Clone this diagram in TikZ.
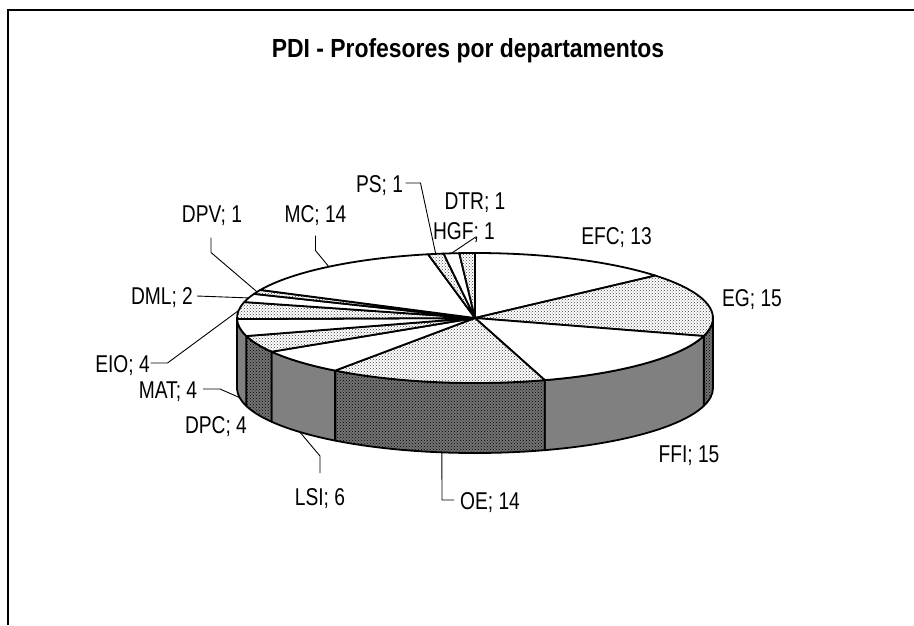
\documentclass[tikz,border=0pt]{standalone}
\usepackage{fontspec}
\setmainfont{Liberation Sans}
\usetikzlibrary{patterns,calc}
\newcommand\lbltext[1]{\scalebox{0.79}[1]{#1}}
\begin{document}
\begin{tikzpicture}[x=1pt,y=-1pt,
  lbl/.style={font=\fontsize{24.3}{29}\selectfont, inner sep=0pt, anchor=base},
  ttl/.style={font=\bfseries\fontsize{26.2}{31}\selectfont, inner sep=0pt, anchor=base},
  topw/.style={fill=white, draw=black, line width=1.8pt, line join=round},
  topd/.style={draw=black, line width=1.8pt, line join=round, pattern=crosshatch dots, pattern color=black!75, preaction={fill=white}},
  sideg/.style={fill=black!50, draw=black, line width=1.8pt, line join=round},
  sided/.style={draw=black, line width=1.8pt, line join=round, pattern=crosshatch dots, pattern color=black, preaction={fill=black!55}},
  leader/.style={line width=0.9pt},
  frame/.style={line width=1.4pt}]
\useasboundingbox (0,0) rectangle (914,625);
\fill[white] (0,0) rectangle (914,625);
\draw[frame] (8,625) -- (8,10) -- (914,10);

\coordinate (C) at (475,318);

% side faces
\foreach \a/\b/\s in {13/28/sided,28/43/sideg,43/57/sided,57/63/sideg,63/67/sided,67/71/sideg,71/75/sided}{
  \pgfmathsetmacro\pa{max(0,-90+\a*3.789474)}
  \pgfmathsetmacro\pb{min(180,-90+\b*3.789474)}
  \path[\s] ($(C)+(\pa:238 and 65)$) arc[start angle=\pa,end angle=\pb,x radius=238,y radius=65]
     -- ++(0,70) arc[start angle=\pb,end angle=\pa,x radius=238,y radius=65] -- cycle;
}

% top faces
\foreach \a/\b/\s in {0/13/topw,13/28/topd,28/43/topw,43/57/topd,57/63/topw,63/67/topd,67/71/topw,71/75/topd,75/77/topw,77/78/topd,78/92/topw,92/93/topd,93/94/topw,94/95/topd}{
  \pgfmathsetmacro\pa{-90+\a*3.789474}
  \pgfmathsetmacro\pb{-90+\b*3.789474}
  \path[\s] (C) -- ($(C)+(\pa:238 and 65)$) arc[start angle=\pa,end angle=\pb,x radius=238,y radius=65] -- cycle;
}

% leader end points
\coordinate (pPS) at ($(C)+(260.5:238 and 65)$);
\coordinate (pDTR) at ($(C)+(264.3:238 and 65)$);
\coordinate (pMC) at ($(C)+(232.1:238 and 65)$);
\coordinate (pDPV) at ($(C)+(203.7:238 and 65)$);
\coordinate (pDML) at ($(C)+(198:238 and 65)$);
\coordinate (pEIO) at ($(C)+(186.6:238 and 65)$);
\coordinate (pMAT) at ($(C)+(171.5:238 and 65)+(0,70)$);
\coordinate (pLSI) at ($(C)+(137.4:238 and 65)+(0,70)$);
\coordinate (pOE) at ($(C)+(98:238 and 65)+(0,70)$);

% title
\node[ttl] (title) at (468,57.3) {\scalebox{0.875}[1]{PDI - Profesores por departamentos}};

% labels
\node[lbl] (lEFC) at (616.5,244) {\lbltext{EFC; 13}};
\node[lbl] (lEG)  at (752,306.5) {\lbltext{EG; 15}};
\node[lbl] (lFFI) at (689,462)   {\lbltext{FFI; 15}};
\node[lbl] (lOE)  at (490,509)   {\lbltext{OE; 14}};
\node[lbl] (lLSI) at (320,505)   {\lbltext{LSI; 6}};
\node[lbl] (lDPC) at (216,433)   {\lbltext{DPC; 4}};
\node[lbl] (lMAT) at (168,398)   {\lbltext{MAT; 4}};
\node[lbl] (lEIO) at (122.5,372) {\lbltext{EIO; 4}};
\node[lbl] (lDML) at (162,304)   {\lbltext{DML; 2}};
\node[lbl] (lDPV) at (212,222.5) {\lbltext{DPV; 1}};
\node[lbl] (lMC)  at (315.5,222.5) {\lbltext{MC; 14}};
\node[lbl] (lPS)  at (379.5,192) {\lbltext{PS; 1}};
\node[lbl] (lDTR) at (475,209.5) {\lbltext{DTR; 1}};
\node[lbl] (lHGF) at (464,239.5) {\lbltext{HGF; 1}};

% leaders
\draw[leader] ($(lPS.base)+(26,-9)$) -- ++(15,0) -- (pPS);
\draw[leader] ($(lHGF.base)+(11,-2)$) -- (pDTR);
\draw[leader] ($(lMC.base)+(0,13)$) -- ++(0,15) -- (pMC);
\draw[leader] ($(lDPV.base)+(-1,15)$) -- ++(0,15) -- (pDPV);
\draw[leader] ($(lDML.base)+(35,-8)$) -- (pDML);
\draw[leader] ($(lEIO.base)+(28,-9)$) -- ++(17,0) -- (pEIO);
\draw[leader] ($(lMAT.base)+(35,-9)$) -- ++(17,0) -- (pMAT);
\draw[leader] ($(lLSI.base)+(0,-32)$) -- ++(0,-17) -- (pLSI);
\draw[leader] ($(lOE.base)+(-36,-9)$) -- ++(-12,0) -- (pOE);
\end{tikzpicture}
\end{document}
